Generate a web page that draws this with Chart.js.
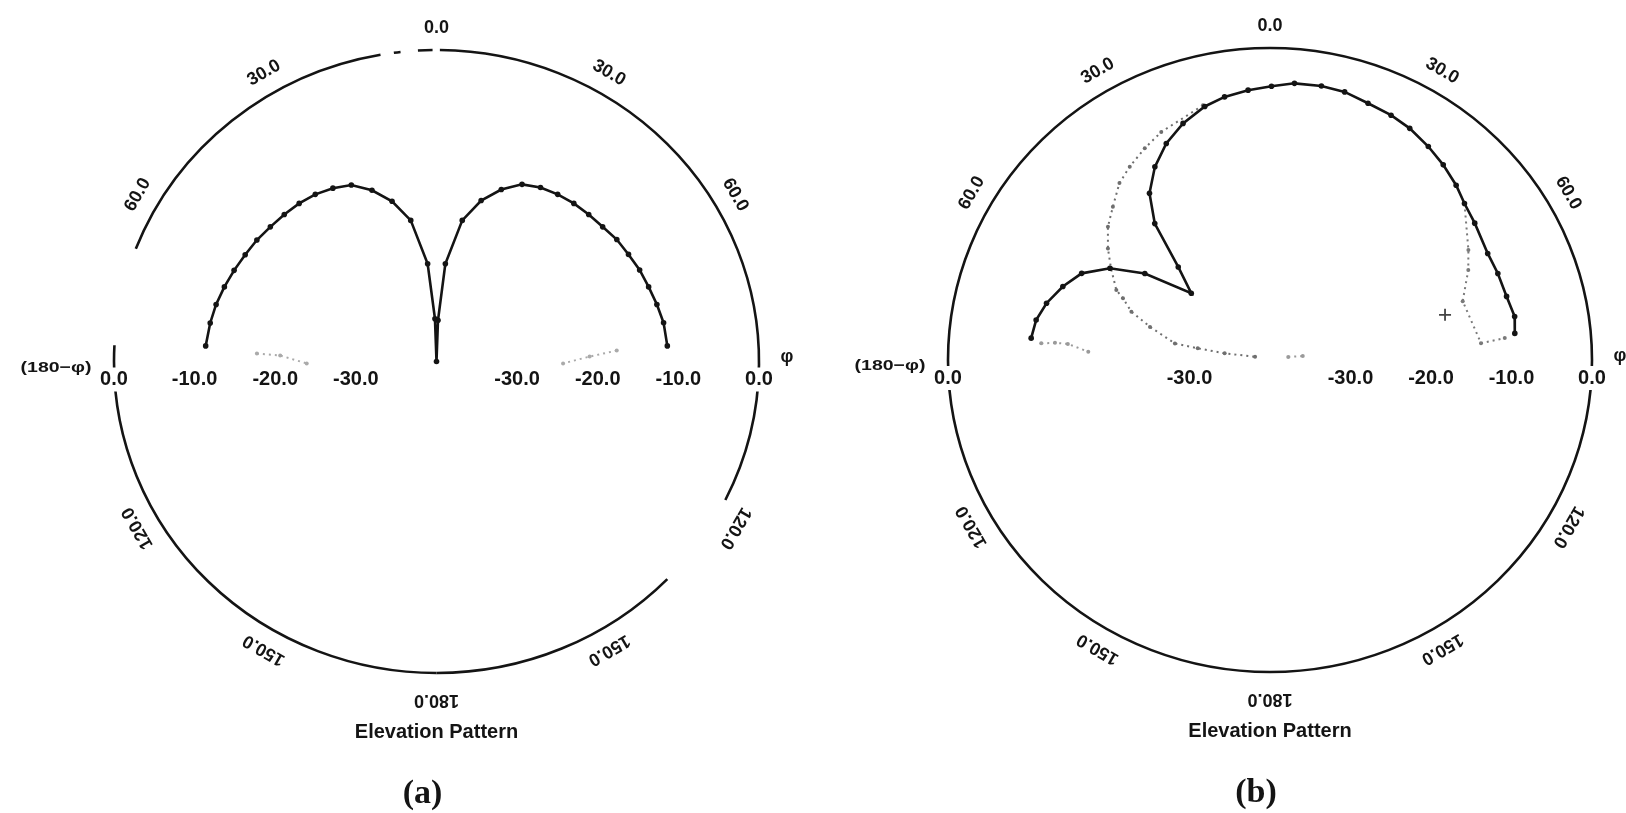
<!DOCTYPE html>
<html>
<head>
<meta charset="utf-8">
<title>Elevation Pattern</title>
<script src="https://cdn.jsdelivr.net/npm/chart.js@4.4.1/dist/chart.umd.min.js"></script>
<style>
  html, body { margin: 0; padding: 0; background: #fff; width: 1626px; height: 813px; overflow: hidden; }
  .panel { position: absolute; top: 0; width: 813px; height: 813px; }
</style>
</head>
<body>
<div class="panel" style="left:0"><canvas id="chartA" width="813" height="813"></canvas></div>
<div class="panel" style="left:813px"><canvas id="chartB" width="813" height="813"></canvas></div>
<script>
// ---- Radial scale: outer rim is 0 dB, centre is FLOOR_DB ----
const FLOOR_DB = -40;

// ---- Panel (a): elevation cut, angle in degrees from zenith ----
const anglesA = [-86, -80, -75, -70, -65, -60, -55, -50, -45, -40, -35, -30, -25, -20, -15, -10, -5, -2,
                 0,
                 2, 5, 10, 15, 20, 25, 30, 35, 40, 45, 50, 55, 60, 65, 70, 75, 80, 86];
const gainA = [-11.3, -11.5, -11.7, -12.0, -12.3, -12.6, -12.8, -13.1, -13.3, -13.5, -13.8, -14.3, -15.0, -16.6, -18.7, -21.6, -27.4, -34.5,
               -40,
               -34.7, -27.4, -21.6, -18.6, -16.5, -14.9, -14.2, -13.8, -13.5, -13.3, -13.1, -12.7, -12.5, -12.2, -12.0, -11.7, -11.4, -11.3];
// faint secondary trace near the horizon
const faintAnglesAL = [-87.4, -87.7, -90.9];
const faintGainAL = [-17.7, -20.6, -23.9];
const faintAnglesAR = [86.4, 88.1, 90.9];
const faintGainAR = [-17.6, -21.0, -24.3];

// ---- Panel (b) ----
const anglesB = [-84.6, -80, -75.3, -69.9, -64.6, -59.4, -54.5, -48.8, -43.7, -39.3, -35, -30, -24.9, -19.6, -14, -9.5, -4.5,
                 0.3, 4.9, 10.3, 15.1, 20.3, 25.6, 30.3, 35.7, 40.7, 45.9, 50.3, 55.4, 63.2, 68.6, 74.5, 79.6, 83.6];
const gainB = [-10.2, -10.5, -11.3, -12.6, -14.1, -16.9, -20.9, -27.0, -23.5, -17.4, -13.9, -11.4, -9.4, -7.8, -6.5, -5.8, -5.3,
               -4.9, -4.4, -4.3, -4.4, -4.9, -5.2, -5.6, -6.3, -7.0, -7.8, -8.6, -9.1, -9.7, -9.6, -9.5, -9.1, -9.4];
// dotted trace
const dotAnglesB = [-14.3, -24.8, -29.8, -35.1, -39.5, -44.8, -49.7, -54.6, -59.2, -64.8, -66.6, -70.2, -74.1, -79.8, -80.5, -81.3, -77.4];
const dotGainB = [-6.3, -7.8, -8.7, -9.7, -10.6, -12.3, -13.6, -15.3, -17.0, -18.9, -20.1, -21.7, -24.5, -28.0, -30.9, -34.3, -38.1];
const dotAnglesBL = [-85.7, -85.3, -85.3, -87.3];
const dotGainBL = [-11.5, -13.2, -14.8, -17.4];
const dotAnglesBC = [80, 82.9];
const dotGainBC = [-37.7, -35.9];
const dotAnglesBR = [50.3, 60.2, 64.9, 72.5, 85.3, 84.5];
const dotGainBR = [-8.6, -11.6, -12.8, -14.9, -13.7, -10.7];
const markAnglesB = [75.1];
const markGainB = [-17.5];

// ---- Axis labelling ----
const angleTicks = [0, 30, 60, 120, 150, 180, -30, -60, -120, -150];
const ringTicksA = { left: [0, -10, -20, -30], right: [-30, -20, -10, 0] };
const ringTicksB = { left: [0, -30], right: [-30, -20, -10, 0] };
// visible stretches of the outer rim (degrees clockwise from zenith)
const rimArcsA = [[0.6, 116.4], [134.3, 180], [-180, -87], [-68.8, -10], [-7.6, -6.4], [-3.3, -0.7]];
const rimArcsB = [[-180, 180]];

const DEG = Math.PI / 180;
const INK = '#141414';

function toXY(angles, gains) {
  return angles.map((a, i) => {
    const r = Math.max(0, gains[i] - FLOOR_DB);
    return { x: r * Math.sin(a * DEG), y: r * Math.cos(a * DEG) };
  });
}

const polarFrame = {
  id: 'polarFrame',
  beforeDatasetsDraw(chart, args, opts) {
    const { ctx, scales: { x, y } } = chart;
    const cx = x.getPixelForValue(0), cy = y.getPixelForValue(0);
    const rx = x.getPixelForValue(-FLOOR_DB) - cx, ry = cy - y.getPixelForValue(-FLOOR_DB);
    ctx.save();
    ctx.strokeStyle = INK;
    ctx.lineWidth = 2.6;
    opts.rim.forEach(([a0, a1]) => {
      ctx.beginPath();
      ctx.ellipse(cx, cy, rx, ry, 0, (a0 - 90) * DEG, (a1 - 90) * DEG);
      ctx.stroke();
    });
    ctx.restore();
  },
  afterDatasetsDraw(chart, args, opts) {
    const { ctx, scales: { x, y } } = chart;
    const cx = x.getPixelForValue(0), cy = y.getPixelForValue(0);
    const rx = x.getPixelForValue(-FLOOR_DB) - cx, ry = cy - y.getPixelForValue(-FLOOR_DB);
    ctx.save();
    ctx.fillStyle = INK;
    ctx.textAlign = 'center';
    ctx.textBaseline = 'middle';

    // angle labels around the rim, written along the tangent
    ctx.font = 'bold 18px "Liberation Sans", Arial, sans-serif';
    angleTicks.forEach(a => {
      const k = a === 180 ? 1.085 : 1.07;
      const px = cx + rx * k * Math.sin(a * DEG);
      const py = cy - ry * k * Math.cos(a * DEG);
      ctx.save();
      ctx.translate(px, py);
      ctx.rotate(a * DEG);
      ctx.fillText(Math.abs(a).toFixed(1), 0, 0);
      ctx.restore();
    });

    // dB labels along the horizon
    ctx.font = 'bold 20px "Liberation Sans", Arial, sans-serif';
    const ly = cy + 18;
    const drawRing = (v, side) => {
      const px = cx + side * rx * (v - FLOOR_DB) / -FLOOR_DB;
      const t = v.toFixed(1);
      const w = ctx.measureText(t).width;
      ctx.fillStyle = '#fff';
      ctx.fillRect(px - w / 2 - 2, ly - 12, w + 4, 24);
      ctx.fillStyle = INK;
      ctx.fillText(t, px, ly);
    };
    const leftEdge = cx - rx, rightEdge = cx + rx;
    opts.ring.left.forEach(v => drawRing(v, -1));
    opts.ring.right.forEach(v => drawRing(v, 1));

    // angle axis name and symbol
    ctx.save();
    ctx.font = 'bold 15px "Liberation Sans", Arial, sans-serif';
    ctx.translate(leftEdge - 58, ly - 12);
    ctx.scale(1.3, 1);
    ctx.fillText('(180\u2212\u03C6)', 0, 0);
    ctx.restore();
    ctx.font = 'bold 18px "Liberation Sans", Arial, sans-serif';
    ctx.fillText('\u03C6', rightEdge + 28, ly - 22);

    // caption block under the rim
    ctx.font = 'bold 20px "Liberation Sans", Arial, sans-serif';
    ctx.fillText('Elevation Pattern', cx, cy + ry * 1.19);
    ctx.font = 'bold 34px "Liberation Serif", "Times New Roman", serif';
    ctx.fillText(opts.caption, cx - 14, cy + ry * 1.39);
    ctx.restore();
  }
};

function lineSet(angles, gains, extra) {
  return Object.assign({
    data: toXY(angles, gains),
    showLine: true,
    borderColor: INK,
    backgroundColor: INK,
    borderWidth: 2.6,
    pointRadius: 2.8,
    pointBorderWidth: 0,
    tension: 0,
    clip: false
  }, extra || {});
}

function dotted(angles, gains, color) {
  return lineSet(angles, gains, {
    borderColor: color, backgroundColor: color, borderWidth: 2,
    borderDash: [2, 4], pointRadius: 2
  });
}

function makeChart(id, datasets, pad, rim, ring, caption) {
  return new Chart(document.getElementById(id), {
    type: 'scatter',
    data: { datasets },
    options: {
      responsive: false,
      animation: false,
      events: [],
      layout: { padding: pad },
      scales: {
        x: { type: 'linear', min: FLOOR_DB, max: -FLOOR_DB, display: false },
        y: { type: 'linear', min: FLOOR_DB, max: -FLOOR_DB, display: false }
      },
      plugins: {
        legend: { display: false },
        tooltip: { enabled: false },
        polarFrame: { rim, ring, caption }
      }
    },
    plugins: [polarFrame]
  });
}

makeChart('chartA', [
  lineSet(anglesA, gainA),
  dotted(faintAnglesAL, faintGainAL, '#aaaaaa'),
  dotted(faintAnglesAR, faintGainAR, '#aaaaaa')
], { left: 114, right: 54, top: 50, bottom: 140 }, rimArcsA, ringTicksA, '(a)');

makeChart('chartB', [
  lineSet(anglesB, gainB),
  dotted(dotAnglesB, dotGainB, '#6f6f6f'),
  dotted(dotAnglesBL, dotGainBL, '#9a9a9a'),
  dotted(dotAnglesBC, dotGainBC, '#9a9a9a'),
  dotted(dotAnglesBR, dotGainBR, '#7a7a7a'),
  Object.assign(lineSet(markAnglesB, markGainB), {
    showLine: false, pointStyle: 'cross', pointRadius: 6, pointBorderWidth: 1.8, borderColor: '#444'
  })
], { left: 135, right: 34, top: 48, bottom: 141 }, rimArcsB, ringTicksB, '(b)');
</script>
</body>
</html>
